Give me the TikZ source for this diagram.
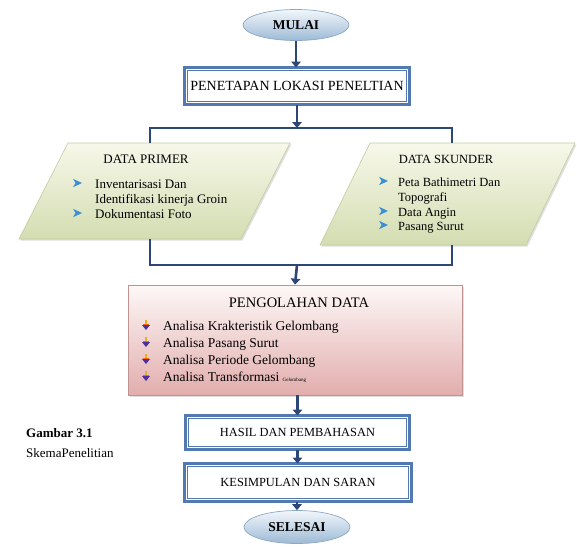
\documentclass[tikz,border=0pt]{standalone}
\usepackage{fontspec}
\setmainfont{Liberation Serif}
\usetikzlibrary{arrows.meta,shapes.geometric,shadows,calc}
\definecolor{boxblue}{HTML}{5379B3}
\definecolor{navy}{HTML}{2C4676}
\definecolor{ellTop}{HTML}{F2F7FB}
\definecolor{ellBot}{HTML}{9DBAD6}
\definecolor{ellLine}{HTML}{8DA8C6}
\definecolor{grTop}{HTML}{F7F8EA}
\definecolor{grBot}{HTML}{D3DDB1}
\definecolor{grLine}{HTML}{C2CCA0}
\definecolor{pkTop}{HTML}{FDF8F7}
\definecolor{pkMid}{HTML}{F3DCDB}
\definecolor{pkBot}{HTML}{E2ADAD}
\definecolor{pkLine}{HTML}{C09393}
\definecolor{chevblue}{HTML}{3A8ED2}
\definecolor{icoGold}{HTML}{E8B21E}
\definecolor{icoPurple}{HTML}{4A2FA0}
\newcommand\chevbul[2]{\fill[chevblue] (#1,#2-4.2) -- (#1+9,#2) -- (#1,#2+4.2) -- (#1+2.6,#2) -- cycle;}
\newcommand\downbul[2]{%
  \fill[icoGold] (#1-1.2,#2-5) rectangle (#1+1.2,#2+0.5);
  \fill[orange!80!red] (#1-3,#2-1.2) rectangle (#1+3,#2-0.2);
  \fill[icoPurple] (#1-4,#2) -- (#1+4,#2) -- (#1,#2+5) -- cycle;}
\newcommand\innerframe[1]{\draw[boxblue,line width=0.9pt] ([shift={(3.4pt,-3.4pt)}]#1.north west) rectangle ([shift={(-3.4pt,3.4pt)}]#1.south east);}
\begin{document}
\begin{tikzpicture}[x=1pt,y=-1pt,
  term/.style={ellipse, draw=ellLine, line width=0.7pt, top color=ellTop, bottom color=ellBot, minimum width=106pt, minimum height=31pt, inner sep=0pt, font=\bfseries\fontsize{13.5}{15}\selectfont},
  bluebox/.style={draw=boxblue, line width=3pt, fill=white, inner sep=0pt, outer sep=0pt, font=\fontsize{12.4}{14}\selectfont},
  arr/.style={draw=navy, line width=2.6pt, -{Triangle[length=6pt,width=9.5pt]}},
  brk/.style={draw=navy, line width=1.3pt},
  para/.style={draw=grLine, line width=0.6pt, top color=grTop, bottom color=grBot, drop shadow={opacity=0.25, shadow xshift=1.5pt, shadow yshift=-1.5pt}},
  ptxt/.style={anchor=base west, inner sep=0pt, font=\fontsize{13}{15}\selectfont},
  stxt/.style={anchor=base west, inner sep=0pt, font=\fontsize{12.5}{15}\selectfont},
  otxt/.style={anchor=base west, inner sep=0pt, font=\fontsize{13.5}{15}\selectfont}
]
\useasboundingbox (0,0) rectangle (577,547);
\fill[white] (0,0) rectangle (577,547);

% start
\node[term] (mulai) at (296,25) {MULAI};
\node[bluebox, minimum width=225pt, minimum height=37pt, font=\fontsize{14}{16}\selectfont] (pen) at (297,86) {PENETAPAN LOKASI PENELTIAN};
\innerframe{pen}

% parallelograms
\path[para] (68,143) -- (290,143) -- (241,239) -- (19,239) -- cycle;
\path[para] (370,143) -- (575,143) -- (526,245) -- (320,245) -- cycle;
\coordinate (primTop) at (150,143);
\coordinate (skTop) at (452,143);
\coordinate (primBot) at (150,239);
\coordinate (skBot) at (452,245);

\node[anchor=base, inner sep=0pt, font=\fontsize{13}{15}\selectfont] (primT) at (146,163) {DATA PRIMER};
\chevbul{73}{183}
\node[ptxt] (p1) at (95,188) {Inventarisasi Dan};
\node[ptxt] (p2) at (95,203) {Identifikasi kinerja Groin};
\chevbul{73}{213}
\node[ptxt] (p3) at (95,218) {Dokumentasi Foto};

\node[anchor=base, inner sep=0pt, font=\fontsize{12.5}{15}\selectfont] (skT) at (446,163) {DATA SKUNDER};
\chevbul{379}{181}
\node[stxt] (s1) at (398,186) {Peta Bathimetri Dan};
\node[stxt] (s2) at (398,201) {Topografi};
\chevbul{379}{211}
\node[stxt] (s3) at (398,216) {Data Angin};
\chevbul{379}{225}
\node[stxt] (s4) at (398,230) {Pasang Surut};

% brackets
\coordinate (brT) at (297,128);
\coordinate (brTL) at (150,128);
\coordinate (brTR) at (452,128);
\coordinate (brB) at (297,265);
\coordinate (brBL) at (150,265);
\coordinate (brBR) at (452,265);
\draw[arr] (pen.south) -- (brT);
\draw[brk] (primTop) -- (brTL) -- (brTR) -- (skTop);
\draw[brk] (primBot) -- (brBL) -- (brBR) -- (skBot);

% processing
\node[draw=pkLine, line width=0.7pt, top color=pkTop, middle color=pkMid, bottom color=pkBot, minimum width=334pt, minimum height=110pt, inner sep=0pt, drop shadow={opacity=0.25, shadow xshift=1.5pt, shadow yshift=-1.5pt}] (olah) at (295,340) {};
\draw[arr] (brB) -- (olah.north);
\node[anchor=base, inner sep=0pt, font=\fontsize{14.5}{16}\selectfont] (olahT) at (299,307) {PENGOLAHAN DATA};
\downbul{146}{325}
\node[otxt] (o1) at (163,330) {Analisa Krakteristik Gelombang};
\downbul{146}{342}
\node[otxt] (o2) at (163,347) {Analisa Pasang Surut};
\downbul{146}{359}
\node[otxt] (o3) at (163,364) {Analisa Periode Gelombang};
\downbul{146}{376}
\node[otxt] (o4) at (163,381) {Analisa Transformasi {\fontsize{5}{6}\selectfont Gelombang}};

% results
\node[bluebox, minimum width=224pt, minimum height=34pt] (has) at (297.5,432.5) {HASIL DAN PEMBAHASAN};
\innerframe{has}
\node[bluebox, minimum width=227pt, minimum height=38pt] (kes) at (298,482.5) {KESIMPULAN DAN SARAN};
\innerframe{kes}
\node[term, minimum height=33pt] (sel) at (297,527) {SELESAI};

\draw[arr] (mulai.south) -- (mulai.south |- pen.north);
\draw[arr] (olah.south -| has.north) -- (has.north);
\draw[arr] (has.south) -- (has.south |- kes.north);
\draw[arr] (kes.south -| sel.north) -- (sel.north);

% caption
\node[anchor=base west, inner sep=0pt, font=\bfseries\fontsize{13}{15}\selectfont] (cap1) at (26,437) {Gambar 3.1};
\node[anchor=base west, inner sep=0pt, font=\fontsize{13}{15}\selectfont] (cap2) at (26,457) {SkemaPenelitian};
\end{tikzpicture}
\end{document}
